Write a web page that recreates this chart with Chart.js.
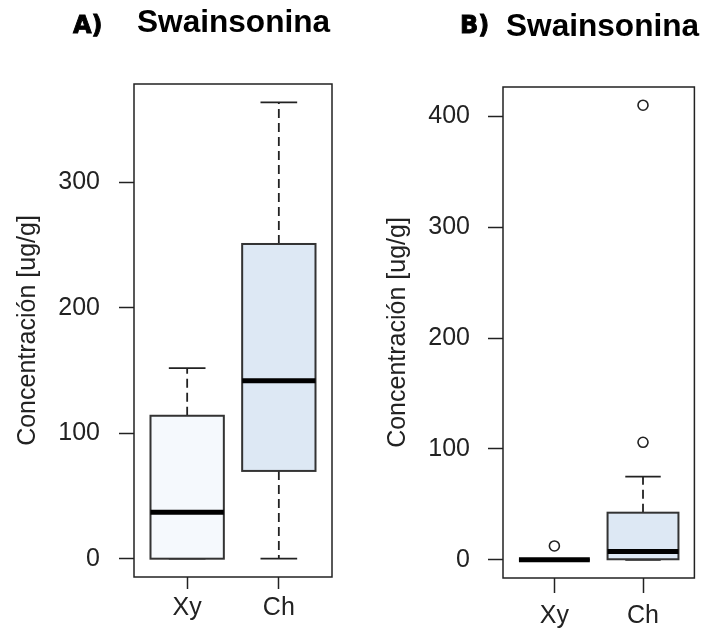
<!DOCTYPE html>
<html>
<head>
<meta charset="utf-8">
<script src="https://cdn.jsdelivr.net/npm/chart.js@4"></script>
<style>
  body { margin: 0; background: #fff; }
  #wrap { position: relative; width: 701px; height: 632px; overflow: hidden; }
  canvas { position: absolute; top: 0; }
  .tag { position: absolute; font: bold 24px "DejaVu Sans"; line-height: 24px; color: #000; -webkit-text-stroke: 0.9px #000; }
  .ttl { position: absolute; font: bold 31.6px "Liberation Sans"; line-height: 31px; color: #000; }
</style>
</head>
<body>
<div id="wrap">
  <canvas id="chartA" width="350" height="632" style="left:0"></canvas>
  <canvas id="chartB" width="351" height="632" style="left:350px"></canvas>
  <div class="tag" style="left:73px;top:13px">A)</div>
  <div class="ttl" style="left:137px;top:6px">Swainsonina</div>
  <div class="tag" style="left:460px;top:13px">B)</div>
  <div class="ttl" style="left:506px;top:10px">Swainsonina</div>
</div>
<script>
// categories
var groups = ['Xy', 'Ch']

// panel A (boxplot stats per group)
var aMin = [0, 0]
var aQ1  = [0, 70]
var aMed = [37, 142]
var aQ3  = [114, 251]
var aMax = [152, 364]
var aOut = [[], []]
var aTicks = [0, 100, 200, 300]

// panel B
var bMin = [0, 0]
var bQ1  = [0, 0.5]
var bMed = [0, 7.5]
var bQ3  = [0, 42.5]
var bMax = [0, 75]
var bOut = [[12.5], [106, 410]]
var bTicks = [0, 100, 200, 300, 400]

var fills = ['#f5f9fd', '#dde8f4']
var ink = '#222'
var font = {family: 'Liberation Sans', size: 25, lineHeight: 1.2}

function line(ctx, x1, y1, x2, y2) {
  ctx.beginPath(); ctx.moveTo(x1, y1); ctx.lineTo(x2, y2); ctx.stroke()
}

var boxPlugin = {
  id: 'boxes',
  afterDatasetsDraw: function(chart, args, opts) {
    var ctx = chart.ctx, x = chart.scales.x, y = chart.scales.y, s = opts.stats
    var area = chart.chartArea
    ctx.save()
    for (var i = 0; i < s.med.length; i++) {
      var cx = x.getPixelForValue(i + 1)
      var hw = x.getPixelForValue(i + 1.4) - cx
      var cw = hw / 2
      var pMin = y.getPixelForValue(s.min[i]), pQ1 = y.getPixelForValue(s.q1[i])
      var pMed = y.getPixelForValue(s.med[i]), pQ3 = y.getPixelForValue(s.q3[i])
      var pMax = y.getPixelForValue(s.max[i])
      ctx.strokeStyle = ink
      ctx.lineWidth = 1.8
      ctx.setLineDash([9, 5])
      if (pQ3 - pMax > 1) line(ctx, cx, pQ3, cx, pMax)
      if (pMin - pQ1 > 1) line(ctx, cx, pQ1, cx, pMin)
      ctx.setLineDash([])
      line(ctx, cx - cw, pMax, cx + cw, pMax)
      line(ctx, cx - cw, pMin, cx + cw, pMin)
      ctx.fillStyle = fills[i]
      ctx.fillRect(cx - hw, pQ3, 2 * hw, pQ1 - pQ3)
      ctx.strokeStyle = '#333'
      ctx.lineWidth = 2
      ctx.strokeRect(cx - hw, pQ3, 2 * hw, pQ1 - pQ3)
      ctx.strokeStyle = '#000'
      ctx.lineWidth = 5
      line(ctx, cx - hw, pMed, cx + hw, pMed)
    }
    ctx.strokeStyle = ink
    ctx.lineWidth = 1.5
    ctx.strokeRect(area.left, area.top, area.right - area.left, area.bottom - area.top)
    ctx.restore()
  }
}

function makeChart(id, st, outs, ticks, yMin, yMax, pad, yWidth, xHeight, opt) {
  var pts = []
  outs.forEach(function(list, i) {
    list.forEach(function(v) { pts.push({x: i + 1, y: v}) })
  })
  return new Chart(id, {
    type: 'scatter',
    data: {
      datasets: [{
        data: pts,
        pointRadius: 5,
        pointBorderWidth: 1.6,
        borderColor: ink,
        backgroundColor: 'rgba(0,0,0,0)'
      }]
    },
    plugins: [boxPlugin],
    options: {
      responsive: false,
      animation: false,
      layout: {padding: pad},
      plugins: {
        legend: {display: false},
        tooltip: {enabled: false},
        boxes: {stats: st}
      },
      scales: {
        x: {
          type: 'linear', min: 0.42, max: 2.58,
          afterBuildTicks: function(sc) { sc.ticks = [{value: 1}, {value: 2}] },
          afterFit: function(sc) { sc.height = xHeight },
          grid: {display: true, drawOnChartArea: false, color: ink, tickLength: opt.xTick, tickWidth: 1.5},
          border: {display: false},
          ticks: {color: ink, font: font, padding: opt.xPad, maxRotation: 0,
                  callback: function(v) { return groups[v - 1] }}
        },
        y: {
          min: yMin, max: yMax,
          afterBuildTicks: function(sc) { sc.ticks = ticks.map(function(v) { return {value: v} }) },
          afterFit: function(sc) { sc.width = yWidth },
          grid: {display: true, drawOnChartArea: false, color: ink, tickLength: 15, tickWidth: 1.5},
          border: {display: false},
          ticks: {color: ink, font: font, padding: opt.yPad},
          title: {display: true, text: 'Concentración [ug/g]', color: ink, font: font,
                  padding: {top: opt.tPad, bottom: 0}}
        }
      }
    }
  })
}

makeChart('chartA', {min: aMin, q1: aQ1, med: aMed, q3: aQ3, max: aMax}, aOut, aTicks,
  -14.6, 378.6, {top: 84, right: 18, left: 0, bottom: 0}, 134, 55,
  {xTick: 12, xPad: 4, yPad: 19, tPad: 13})
makeChart('chartB', {min: bMin, q1: bQ1, med: bMed, q3: bQ3, max: bMax}, bOut, bTicks,
  -16.4, 426.4, {top: 87, right: 1, left: 0, bottom: 0}, 153, 54,
  {xTick: 15, xPad: 8, yPad: 18, tPad: 33})
</script>
</body>
</html>
